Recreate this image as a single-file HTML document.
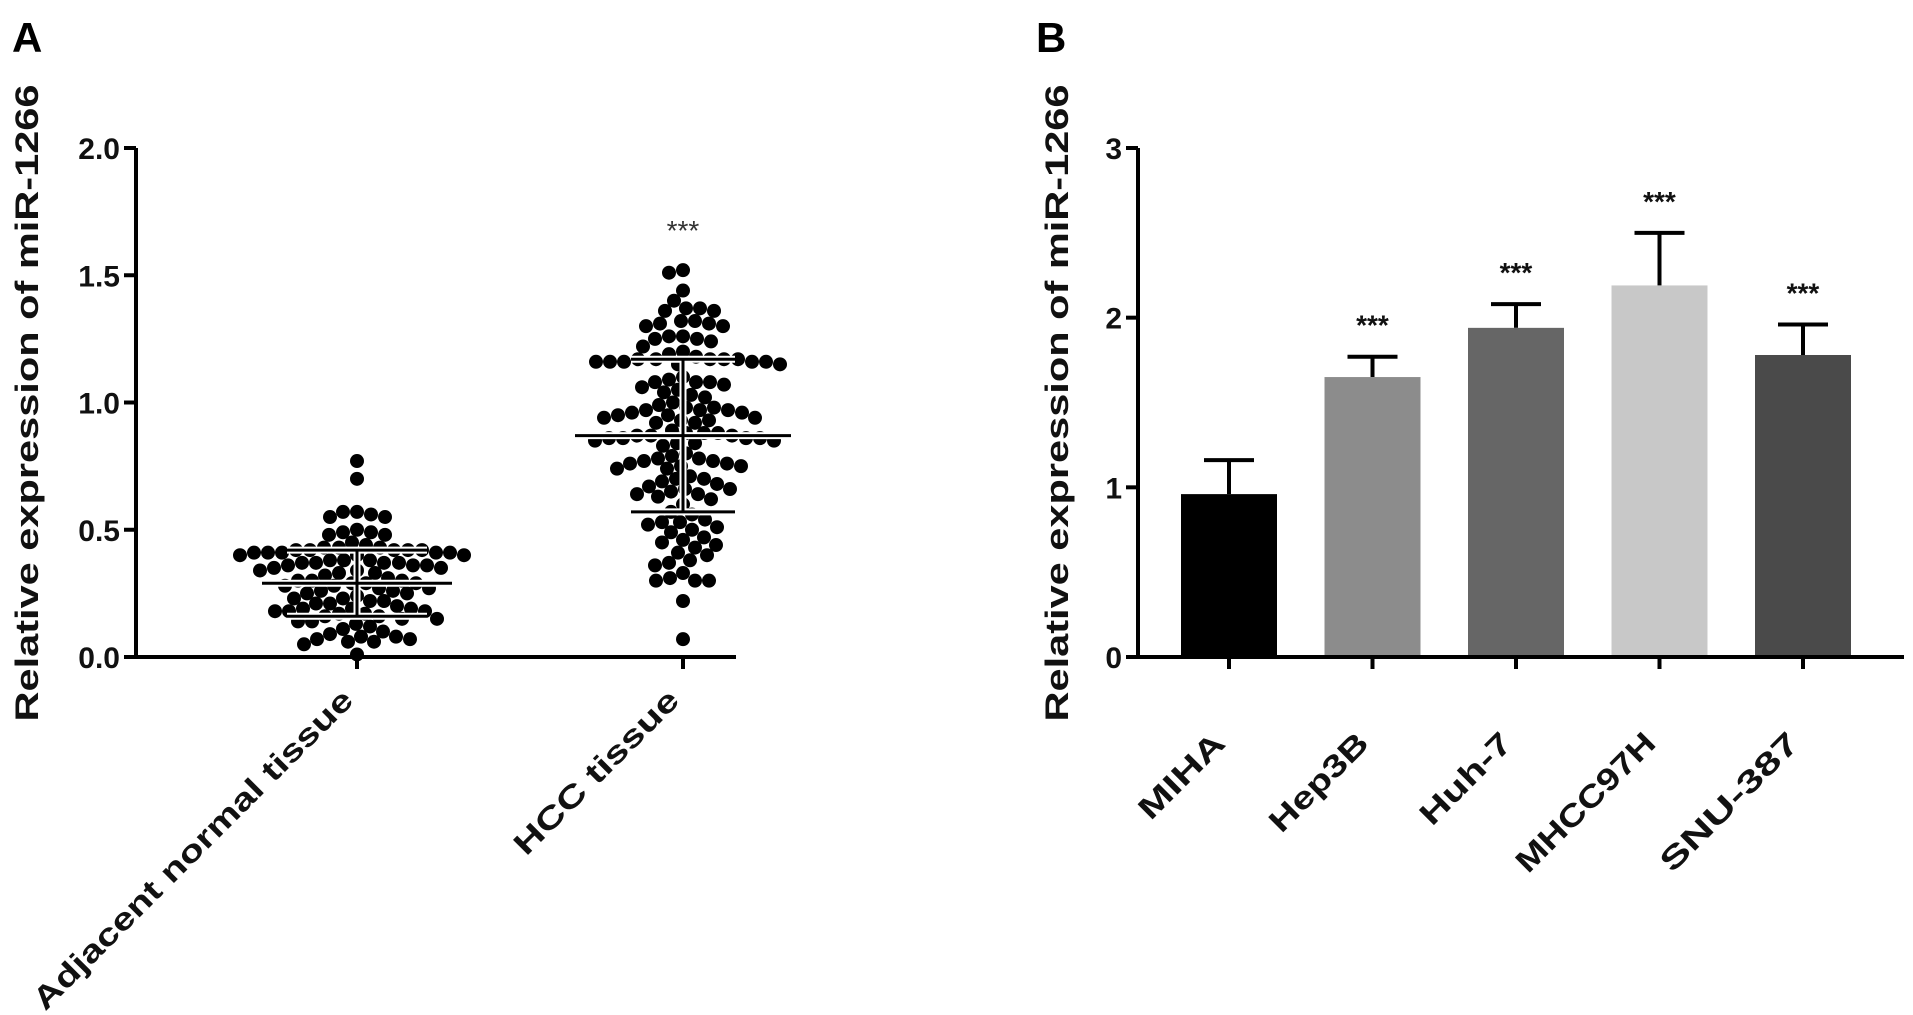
<!DOCTYPE html>
<html><head><meta charset="utf-8"><style>
html,body{margin:0;padding:0;background:#fff;}
svg{display:block;font-family:"Liberation Sans",Arial,sans-serif;}
</style></head><body>
<svg id="fig" width="1913" height="1015" viewBox="0 0 1913 1015">
<text x="12" y="52" font-size="42" font-weight="bold">A</text>
<text x="1036" y="52" font-size="42" font-weight="bold">B</text>
<g id="pa"></g>
<g id="pb"></g>
</svg>
<script>
// ---- Panel A data ----
const groupsA = ["Adjacent normal tissue", "HCC tissue"];
const adjValues = [0.77,0.70,0.56,0.57,0.57,0.55,0.55,0.50,0.49,0.49,0.48,0.48,0.45,0.44,
0.43,0.43,0.42,0.42,0.42,0.42,0.41,0.41,0.41,0.41,0.40,0.40,0.43,0.42,0.41,0.40,
0.38,0.38,0.37,0.37,0.37,0.36,0.36,0.36,0.35,0.35,0.34,0.34,0.33,0.33,0.38,0.37,
0.31,0.32,0.30,0.30,0.29,0.29,0.29,0.28,0.28,0.27,0.27,0.26,0.26,0.25,0.25,0.30,
0.23,0.22,0.21,0.24,0.22,0.21,0.23,0.20,
0.19,0.19,0.19,0.18,0.18,0.18,0.17,0.17,0.16,0.16,0.15,0.15,0.14,0.14,0.13,0.12,
0.11,0.10,0.09,0.08,0.07,0.07,0.06,0.06,0.05,0.08,0.01];
const hccValues = [1.52,1.51,1.44,1.40,1.37,1.37,1.36,1.36,1.32,1.31,1.30,1.30,1.31,1.32,1.26,1.25,1.25,1.26,1.24,1.22,1.20,
1.19,1.18,1.17,1.17,1.17,1.16,1.16,1.16,1.15,1.16,1.17,1.16,1.15,1.17,
1.09,1.08,1.08,1.07,1.06,1.05,1.04,1.08,1.10,1.03,1.02,1.00,
0.99,0.98,0.97,0.97,0.96,0.96,0.95,0.95,0.94,0.94,0.93,0.93,0.92,0.92,0.98,0.97,
0.89,0.88,0.88,0.87,0.87,0.86,0.86,0.86,0.85,0.85,0.84,0.84,0.88,0.87,0.86,0.83,
0.80,0.79,0.78,0.78,0.77,0.77,0.76,0.76,0.75,0.75,0.74,0.74,
0.71,0.70,0.70,0.69,0.68,0.67,0.66,0.66,0.65,0.64,0.64,0.63,0.62,
0.60,0.57,0.56,0.54,0.53,0.53,0.52,0.51,0.50,0.49,0.47,0.46,0.45,0.44,0.43,0.41,0.40,0.38,0.37,0.36,0.33,0.31,0.30,0.30,0.30,0.22,0.07];
const meansA = [0.29, 0.87];
const sdsA = [0.13, 0.30];
const ticksA = [0, 0.5, 1.0, 1.5, 2.0];
const tickLabelsA = ["0.0","0.5","1.0","1.5","2.0"];

// ---- Panel B data ----
const cellLines = ["MIHA","Hep3B","Huh-7","MHCC97H","SNU-387"];
const barValues = [0.96,1.65,1.94,2.19,1.78];
const barErrors = [0.20,0.12,0.14,0.31,0.18];
const barColors = ["#000000","#8c8c8c","#666666","#c8c8c8","#4a4a4a"];
const barStars = ["","***","***","***","***"];
const ticksB = [0,1,2,3];
const labelLengthsB = [108,126,116,183,182];

const NS="http://www.w3.org/2000/svg";
function mk(parent, tag, attrs){const e=document.createElementNS(NS,tag);for(const k in attrs)e.setAttribute(k,attrs[k]);parent.appendChild(e);return e;}

// ---- Panel A ----
(function(){
const g=document.getElementById('pa');
const x0=136, x1=736, y0=657, y1=148;
const yA=v=>y0-(v/2.0)*(y0-y1);
const xCat=[357,683];
const r=7;
[adjValues,hccValues].forEach((vals,gi)=>{
  const placed=[];
  const sorted=vals.map(v=>v).sort((a,b)=>b-a);
  sorted.forEach(v=>{
    const py=yA(v);
    let off=0;
    for(let s=0;s<400;s++){
      const cand=(s%2===0?1:-1)*Math.ceil(s/2);
      let ok=true;
      for(const p of placed){const dy=p[1]-py,dx=p[0]-cand;if(dx*dx+dy*dy<(2*r-0.5)*(2*r-0.5)){ok=false;break;}}
      if(ok){off=cand;break;}
    }
    placed.push([off,py]);
    const c=mk(g,'circle',{cx:xCat[gi]+off,cy:py,r:r,fill:'#000'});
    
    
  });
  const m=meansA[gi], s=sdsA[gi];
  const mw=gi===0?95:108, cw=gi===0?70:52;
  const eb=mk(g,'g',{});
  
  
  const lines=[[xCat[gi]-mw,yA(m),xCat[gi]+mw,yA(m)],[xCat[gi],yA(m+s),xCat[gi],yA(m-s)],
    [xCat[gi]-cw,yA(m+s),xCat[gi]+cw,yA(m+s)],[xCat[gi]-cw,yA(m-s),xCat[gi]+cw,yA(m-s)]];
  lines.forEach(l=>mk(eb,'line',{x1:l[0],y1:l[1],x2:l[2],y2:l[3],stroke:'#fff','stroke-width':7}));
  lines.forEach(l=>mk(eb,'line',{x1:l[0],y1:l[1],x2:l[2],y2:l[3],stroke:'#000','stroke-width':3}));
});
const ya=mk(g,'line',{x1:x0,y1:y0+2,x2:x0,y2:y1,stroke:'#000','stroke-width':4});

const xa=mk(g,'line',{x1:x0-2,y1:y0,x2:x1,y2:y0,stroke:'#000','stroke-width':4});

ticksA.forEach((t,i)=>{
  mk(g,'line',{x1:x0-12,y1:yA(t),x2:x0,y2:yA(t),stroke:'#000','stroke-width':4});
  const tx=mk(g,'text',{x:x0-16,y:yA(t)+11,'text-anchor':'end','font-size':30,'font-weight':'bold',fill:'#111'});
  tx.textContent=tickLabelsA[i];
  
  
});
const lensA=[438,219];
groupsA.forEach((n,i)=>{
  mk(g,'line',{x1:xCat[i],y1:y0,x2:xCat[i],y2:y0+12,stroke:'#000','stroke-width':4});
  const ax=xCat[i]-2, ay=702;
  const tx=mk(g,'text',{x:ax,y:ay,'text-anchor':'end','font-size':31,'font-weight':'bold',fill:'#111',transform:`rotate(-45 ${ax} ${ay})`,textLength:lensA[i],lengthAdjust:'spacingAndGlyphs'});
  tx.textContent=n;
  
  
});
const st=mk(g,'text',{x:xCat[1],y:240,'text-anchor':'middle','font-size':28,fill:'#333'});
st.textContent='***';


const yt=mk(g,'text',{x:38,y:403,'text-anchor':'middle','font-size':32,'font-weight':'bold',fill:'#111',transform:'rotate(-90 38 403)',textLength:637,lengthAdjust:'spacingAndGlyphs'});
yt.textContent='Relative expression of miR-1266';


})();

// ---- Panel B ----
(function(){
const g=document.getElementById('pb');
const x0=1138, x1=1904, y0=657, y1=148;
const yB=v=>y0-(v/3)*(y0-y1);
const step=143.5, first=1229, bw=96;
const xB=i=>first+i*step;
barValues.forEach((v,i)=>{
  const cx=xB(i);
  const eTop=yB(v+barErrors[i]);
  const el=mk(g,'g',{});
  
  
  mk(el,'line',{x1:cx,y1:yB(v),x2:cx,y2:eTop,stroke:'#000','stroke-width':4});
  mk(el,'line',{x1:cx-25,y1:eTop,x2:cx+25,y2:eTop,stroke:'#000','stroke-width':4});
  const b=mk(g,'rect',{x:cx-bw/2,y:yB(v),width:bw,height:y0-yB(v),fill:barColors[i]});
  
  
  if(barStars[i]){
    const s=mk(g,'text',{x:cx,y:eTop-22,'text-anchor':'middle','font-size':28,'font-weight':'bold',fill:'#111'});
    s.textContent=barStars[i];
    
    
  }
  mk(g,'line',{x1:cx,y1:y0,x2:cx,y2:y0+12,stroke:'#000','stroke-width':4});
  const ax=cx-2, ay=745;
  const tx=mk(g,'text',{x:ax,y:ay,'text-anchor':'end','font-size':31,'font-weight':'bold',fill:'#111',transform:`rotate(-45 ${ax} ${ay})`,textLength:labelLengthsB[i],lengthAdjust:'spacingAndGlyphs'});
  tx.textContent=cellLines[i];
  
  
});
const ya=mk(g,'line',{x1:x0,y1:y0+2,x2:x0,y2:y1,stroke:'#000','stroke-width':4});

const xa=mk(g,'line',{x1:x0-2,y1:y0,x2:x1,y2:y0,stroke:'#000','stroke-width':4});

ticksB.forEach(t=>{
  mk(g,'line',{x1:x0-12,y1:yB(t),x2:x0,y2:yB(t),stroke:'#000','stroke-width':4});
  const tx=mk(g,'text',{x:x0-16,y:yB(t)+11,'text-anchor':'end','font-size':30,'font-weight':'bold',fill:'#111'});
  tx.textContent=String(t);
  
  
});
const yt=mk(g,'text',{x:1068,y:403,'text-anchor':'middle','font-size':32,'font-weight':'bold',fill:'#111',transform:'rotate(-90 1068 403)',textLength:637,lengthAdjust:'spacingAndGlyphs'});
yt.textContent='Relative expression of miR-1266';


})();
</script>
</body></html>
